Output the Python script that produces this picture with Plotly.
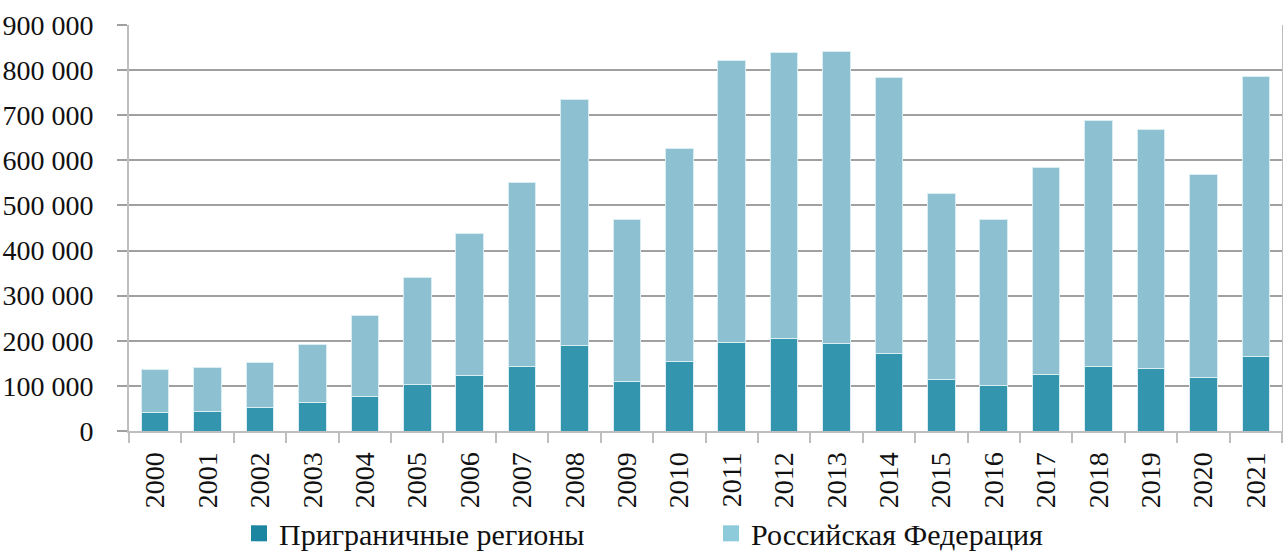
import plotly.graph_objects as go

years = [str(y) for y in range(2000, 2022)]
# Приграничные регионы (dark part)
border = [41500, 43500, 51000, 63500, 77500, 103000, 124000, 144000, 190000, 110000,
          155000, 197000, 206000, 194000, 171000, 115000, 100000, 126000, 143000, 137500,
          118000, 166000]
# Российская Федерация (total bar height)
russia = [137000, 141000, 151500, 191500, 256500, 340000, 438000, 551000, 735000, 469000,
          626000, 821000, 840000, 842000, 784000, 526000, 468000, 585000, 688000, 668000,
          568500, 786500]

ytick_vals = [0, 100000, 200000, 300000, 400000, 500000, 600000, 700000, 800000, 900000]
ytick_text = ["0", "100 000", "200 000", "300 000", "400 000", "500 000",
              "600 000", "700 000", "800 000", "900 000"]

series_names = ["Приграничные регионы", "Российская Федерация"]

rest = [r - b for r, b in zip(russia, border)]

FONT = "Liberation Serif"
BAR_COLORS = ["#3395AE", "#8DC0D1"]
KEY_COLORS = ["#1C86A0", "#8DCBDB"]

fig = go.Figure()
for vals, name, col in zip([border, rest], series_names, BAR_COLORS):
    fig.add_trace(go.Bar(
        x=years, y=vals, name=name, showlegend=False,
        marker=dict(color=col, line=dict(color="#d9edf3", width=1)),
    ))
# legend keys (larger squares than the default bar key)
for name, col in zip(series_names, KEY_COLORS):
    fig.add_trace(go.Scatter(
        x=[None], y=[None], mode="markers", name=name,
        marker=dict(symbol="square", size=16, color=col),
    ))

fig.update_layout(
    width=1283, height=552,
    barmode="stack", bargap=0.475,
    plot_bgcolor="white", paper_bgcolor="white",
    margin=dict(l=129, r=1, t=25, b=121, autoexpand=False),
    font=dict(family=FONT, size=28, color="#111111"),
    showlegend=True,
    legend=dict(
        orientation="h", x=0.0954, xanchor="left", y=-0.252, yanchor="middle",
        traceorder="normal", font=dict(family=FONT, size=30, color="#111111"),
        entrywidth=427, entrywidthmode="pixels", itemwidth=30,
        itemclick=False,
    ),
)

fig.update_xaxes(
    type="category",
    tickangle=-90,
    tickson="boundaries",
    ticks="outside", ticklen=10, tickcolor="#BEBEBE", tickwidth=2,
    showline=True, linecolor="#BEBEBE", linewidth=2,
    showgrid=False,
    automargin=False,
    ticklabelstandoff=8,
    tickfont=dict(family=FONT, size=28, color="#111111"),
)
fig.update_yaxes(
    range=[0, 900000],
    tickvals=ytick_vals, ticktext=ytick_text,
    ticks="outside", ticklen=10, tickcolor="#A0A0A0", tickwidth=1.5,
    showgrid=True, gridcolor="#A0A0A0", gridwidth=1.5,
    showline=True, linecolor="#BEBEBE", linewidth=2, mirror=True,
    zeroline=False,
    automargin=False,
    ticklabelstandoff=18,
    tickfont=dict(family=FONT, size=28, color="#111111"),
)

fig.write_html(
    "out.html",
    config={"displayModeBar": False},
    post_script="document.body.style.margin='0';document.body.style.overflow='hidden';",
)
